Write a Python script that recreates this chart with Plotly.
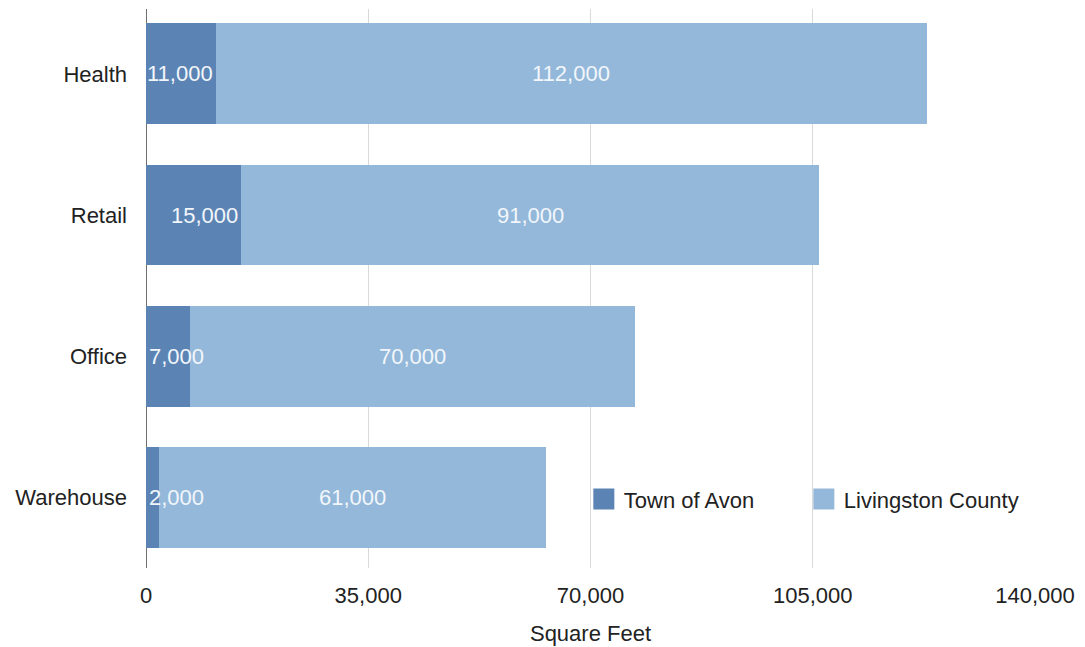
import plotly.graph_objects as go

# Commercial space by sector, square feet
categories = ["Health", "Retail", "Office", "Warehouse"]
town_of_avon = [11000, 15000, 7000, 2000]
livingston_county = [112000, 91000, 70000, 61000]
x_ticks = [0, 35000, 70000, 105000, 140000]
x_tick_labels = ["0", "35,000", "70,000", "105,000", "140,000"]

AVON_COLOR = "#5b84b5"
COUNTY_COLOR = "#93b8da"
FONT = "Liberation Sans, Arial, Helvetica, sans-serif"
FONT_SIZE = 22
LABEL_COLOR = "#f2f6fa"

X_MAX = 140000
PLOT_LEFT, PLOT_RIGHT = 146, 1035
PX_PER_UNIT = (PLOT_RIGHT - PLOT_LEFT) / X_MAX
LABEL_PX = 68  # approx. rendered width of a "00,000" label

fig = go.Figure()

fig.add_trace(go.Bar(
    y=categories, x=town_of_avon, orientation="h", name="Town of Avon",
    marker=dict(color=AVON_COLOR, line=dict(width=0)), showlegend=False,
    hoverinfo="x+name",
))
fig.add_trace(go.Bar(
    y=categories, x=livingston_county, orientation="h", name="Livingston County",
    marker=dict(color=COUNTY_COLOR, line=dict(width=0)), showlegend=False,
    hoverinfo="x+name",
))

# Legend entries with larger square swatches
for name, color in [("Town of Avon", AVON_COLOR), ("Livingston County", COUNTY_COLOR)]:
    fig.add_trace(go.Scatter(
        x=[None], y=[None], mode="markers", name=name,
        marker=dict(symbol="square", size=16, color=color,
                    line=dict(color=color, width=5)),
        showlegend=True,
    ))

annotations = []
for cat, a, c in zip(categories, town_of_avon, livingston_county):
    a_txt = f"{a:,}"
    c_txt = f"{c:,}"
    # Town label sits at the right end of its segment, or at the bar start if it is too narrow
    if a * PX_PER_UNIT >= LABEL_PX:
        annotations.append(dict(x=a, y=cat, text=a_txt, xanchor="right", xshift=-1,
                                showarrow=False, font=dict(color=LABEL_COLOR, size=FONT_SIZE, family=FONT)))
    else:
        annotations.append(dict(x=0, y=cat, text=a_txt, xanchor="left", xshift=1,
                                showarrow=False, font=dict(color=LABEL_COLOR, size=FONT_SIZE, family=FONT)))
    # County label centered in its segment
    annotations.append(dict(x=a + c / 2, y=cat, text=c_txt, xanchor="center",
                            showarrow=False, font=dict(color=LABEL_COLOR, size=FONT_SIZE, family=FONT)))

fig.update_layout(
    width=1085, height=647,
    margin=dict(l=PLOT_LEFT, r=1085 - PLOT_RIGHT, t=9, b=79, autoexpand=False),
    paper_bgcolor="white", plot_bgcolor="white",
    barmode="stack", bargap=0.285,
    font=dict(family=FONT, size=FONT_SIZE, color="#222222"),
    annotations=annotations,
    legend=dict(
        orientation="h", x=0.4925, y=0.123, xanchor="left", yanchor="middle",
        bgcolor="rgba(0,0,0,0)", borderwidth=0, traceorder="normal",
        entrywidth=175, entrywidthmode="pixels",
        font=dict(size=FONT_SIZE, color="#222222", family=FONT),
        itemsizing="trace",
    ),
    xaxis=dict(
        range=[0, X_MAX], tickvals=x_ticks, ticktext=x_tick_labels,
        showgrid=True, gridcolor="#d9d9d9", gridwidth=1,
        zeroline=True, zerolinecolor="#6f6f6f", zerolinewidth=1,
        showline=False, ticks="", ticklabelstandoff=12, automargin=False,
        title=dict(text="Square Feet", standoff=18, font=dict(size=FONT_SIZE)),
        fixedrange=True,
    ),
    yaxis=dict(
        type="category",
        categoryorder="array", categoryarray=list(reversed(categories)),
        range=[-0.5, 3.459], automargin=False,
        showgrid=False, zeroline=False, showline=False, ticks="",
        ticklabelstandoff=18,
        fixedrange=True,
    ),
)

fig.write_html("out.html")
